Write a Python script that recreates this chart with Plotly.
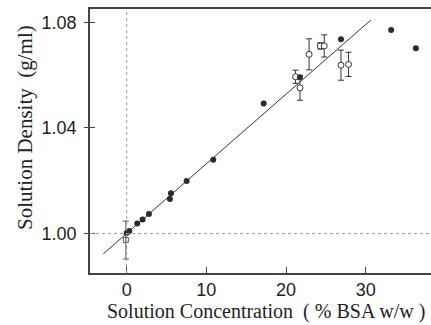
import plotly.graph_objects as go

# filled circles (solution density data)
filled_x = [0.0, 0.33, 1.33, 2.0, 2.8, 5.43, 5.56, 7.53, 10.87, 17.2, 21.75, 26.9, 33.2, 36.3]
filled_y = [1.0002, 1.0009, 1.0038, 1.0053, 1.0074, 1.0131, 1.0152, 1.0199, 1.0279, 1.0493, 1.0592, 1.0736, 1.0771, 1.0702]

# open circles with error bars
open_x = [21.2, 21.75, 22.9, 24.3, 24.8, 26.9, 27.85]
open_y = [1.0594, 1.0552, 1.0679, 1.0711, 1.0711, 1.0638, 1.0641]
open_err = [0.0025, 0.0047, 0.0059, 0.0012, 0.0042, 0.0057, 0.0046]

# open square at origin
sq_x = [-0.1]
sq_y = [0.9975]
sq_err = [0.0072]

# linear fit
fit_slope = 0.00264
fit_intercept = 1.0
fit_x = [-2.93, 30.65]
fit_y = [fit_intercept + fit_slope * v for v in fit_x]

x_ticks = [0, 10, 20, 30]
x_ticklabels = ["0", "10", "20", "30"]
y_ticks = [1.00, 1.04, 1.08]
y_ticklabels = ["1.00", "1.04", "1.08"]

dark = "#2b2b2b"
fig = go.Figure()

fig.add_trace(go.Scatter(x=fit_x, y=fit_y, mode="lines",
                         line=dict(color="#333333", width=1), showlegend=False))
fig.add_trace(go.Scatter(x=sq_x, y=sq_y, mode="markers",
                         marker=dict(symbol="square-open", size=5, color="#555555", line=dict(width=1)),
                         error_y=dict(type="data", array=sq_err, color="#555555", thickness=1, width=3),
                         showlegend=False))
fig.add_trace(go.Scatter(x=open_x, y=open_y, mode="markers",
                         marker=dict(symbol="circle", size=6, color="white", line=dict(color="#333333", width=1)),
                         error_y=dict(type="data", array=open_err, color="#333333", thickness=1, width=3),
                         showlegend=False))
fig.add_trace(go.Scatter(x=filled_x, y=filled_y, mode="markers",
                         marker=dict(symbol="circle", size=6, color=dark),
                         showlegend=False))

fig.add_vline(x=0, line=dict(color="#999999", width=1, dash="dot"))
fig.add_hline(y=1.0, line=dict(color="#999999", width=1, dash="dot"))

fig.update_layout(
    width=431, height=325,
    margin=dict(l=90, r=0, t=9, b=52),
    plot_bgcolor="white", paper_bgcolor="white",
    font=dict(family="Liberation Sans, Arial, sans-serif", size=18, color="#222222"),
    xaxis=dict(range=[-4.6, 38.2], tickvals=x_ticks, ticktext=x_ticklabels,
               ticks="inside", ticklen=6,
               tickcolor="#444444", showline=True, linecolor="#444444", linewidth=1.5,
               mirror=True, showgrid=False, zeroline=False, automargin=False),
    yaxis=dict(range=[0.985, 1.0851], tickvals=y_ticks, ticktext=y_ticklabels,
               ticks="outside", ticklen=4, tickcolor="#444444", showline=True,
               linecolor="#444444", linewidth=1.5, showgrid=False, zeroline=False,
               ticklabelstandoff=4, automargin=False),
    yaxis2=dict(range=[0.985, 1.0851], tickvals=y_ticks, ticks="inside", ticklen=5,
                tickcolor="#444444", showticklabels=False, overlaying="y", side="left",
                showgrid=False, zeroline=False, showline=False, automargin=False),
)
# dummy trace on yaxis2 so it renders
fig.add_trace(go.Scatter(x=[None], y=[None], yaxis="y2", showlegend=False))

fig.add_annotation(text="Solution Concentration  ( % BSA w/w )", xref="paper", yref="paper",
                   x=(266 - 90) / 341, y=-(311 - 273) / 264, showarrow=False,
                   font=dict(family="Liberation Serif, Times New Roman, serif", size=20, color="#222222"),
                   xanchor="center", yanchor="middle")
fig.add_annotation(text="Solution Density  (g/ml)", xref="paper", yref="paper",
                   x=-(90 - 25) / 341, y=(273 - 128) / 264, showarrow=False, textangle=-90,
                   font=dict(family="Liberation Serif, Times New Roman, serif", size=21, color="#222222"),
                   xanchor="center", yanchor="middle")

fig.write_html("out.html", config={"displayModeBar": False},
               post_script="document.body.style.margin='0';document.body.style.overflow='hidden';")
